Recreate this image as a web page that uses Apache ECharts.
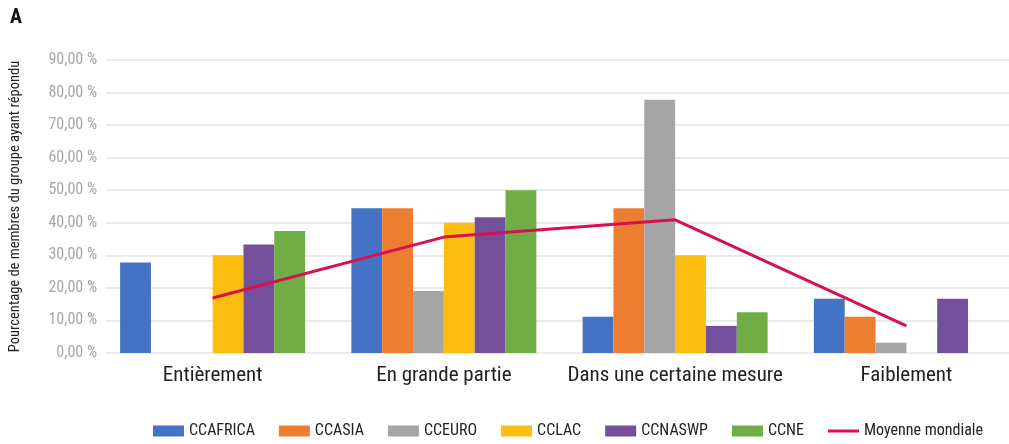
<!DOCTYPE html>
<html>
<head>
<meta charset="utf-8">
<script src="https://cdn.jsdelivr.net/npm/echarts@6/dist/echarts.min.js"></script>
<style>
  html, body { margin: 0; padding: 0; background: #fff; overflow: hidden; }
  #chart { width: 1030px; height: 444px; }
</style>
</head>
<body>
<div id="chart"></div>
<script>
// Response categories
const categories = ['Entièrement', 'En grande partie', 'Dans une certaine mesure', 'Faiblement'];

// Share of each group's members (%) per response
const ccafrica = [27.78, 44.44, 11.11, 16.67];
const ccasia   = [0, 44.44, 44.44, 11.11];
const cceuro   = [0, 19.05, 77.78, 3.17];
const cclac    = [30.0, 40.0, 30.0, 0];
const ccnaswp  = [33.33, 41.67, 8.33, 16.67];
const ccne     = [37.5, 50.0, 12.5, 0];
const moyenne  = [16.9, 35.6, 40.9, 8.3];

const groupNames = ['CCAFRICA', 'CCASIA', 'CCEURO', 'CCLAC', 'CCNASWP', 'CCNE'];
const groupValues = [ccafrica, ccasia, cceuro, cclac, ccnaswp, ccne];
const groupColors = ['#4472c4', '#ed7d31', '#a5a5a5', '#fbbd10', '#744f9b', '#70ad47'];
const lineName = 'Moyenne mondiale';
const lineColor = '#d6114f';

const FONT = '"Roboto Condensed", "Liberation Sans Narrow", sans-serif';

const chart = echarts.init(document.getElementById('chart'));

const barSeries = groupNames.map((name, i) => ({
  name: name,
  type: 'bar',
  xAxisIndex: 1,
  yAxisIndex: 1,
  data: groupValues[i],
  itemStyle: { color: groupColors[i] },
  barGap: '0%',
  barCategoryGap: '20%'
}));

chart.setOption({
  animation: false,
  textStyle: { fontFamily: FONT },
  title: {
    text: 'A',
    left: 10,
    top: 8,
    padding: 0,
    textStyle: { fontFamily: FONT, fontSize: 20, fontWeight: 'bold', color: '#111' }
  },
  grid: [
    // grid carrying the value gridlines and tick labels
    { left: 106, right: 0, top: 60, bottom: 91 },
    // grid carrying the bars and the average line
    { left: 97, right: 8, top: 60, bottom: 91 }
  ],
  xAxis: [
    { type: 'category', gridIndex: 0, data: categories, show: false },
    {
      type: 'category',
      gridIndex: 1,
      data: categories,
      axisLine: { show: false },
      axisTick: { show: false },
      axisLabel: { interval: 0, fontFamily: FONT, fontSize: 21, color: '#222', margin: 12 }
    }
  ],
  yAxis: [
    {
      type: 'value',
      gridIndex: 0,
      min: 0,
      max: 90,
      interval: 10,
      axisLine: { show: false },
      axisTick: { show: false },
      splitLine: { lineStyle: { color: '#e3e3e3', width: 1.5 } },
      axisLabel: {
        fontFamily: FONT,
        fontSize: 16,
        color: '#a6a6a6',
        margin: 9,
        formatter: v => v.toFixed(2).replace('.', ',') + ' %'
      },
      name: 'Pourcentage de membres du groupe ayant répondu',
      nameLocation: 'middle',
      nameGap: 83,
      nameTextStyle: { fontFamily: FONT, fontSize: 14.5, color: '#222' }
    },
    {
      type: 'value',
      gridIndex: 1,
      min: 0,
      max: 90,
      interval: 10,
      show: false,
      splitLine: { show: false }
    }
  ],
  legend: {
    left: 153,
    top: 423,
    width: 900,
    padding: 0,
    itemGap: 24,
    itemWidth: 31,
    itemHeight: 11,
    textStyle: { fontFamily: FONT, fontSize: 16, color: '#222' },
    data: groupNames.map(n => ({ name: n, icon: 'rect' })).concat([{
      name: lineName,
      icon: 'path://M0 0H31V3H0Z',
      itemStyle: { color: lineColor }
    }])
  },
  series: barSeries.concat([{
    name: lineName,
    type: 'line',
    xAxisIndex: 1,
    yAxisIndex: 1,
    data: moyenne,
    symbol: 'none',
    lineStyle: { color: lineColor, width: 3 },
    itemStyle: { color: lineColor },
    z: 5
  }])
});
</script>
</body>
</html>
